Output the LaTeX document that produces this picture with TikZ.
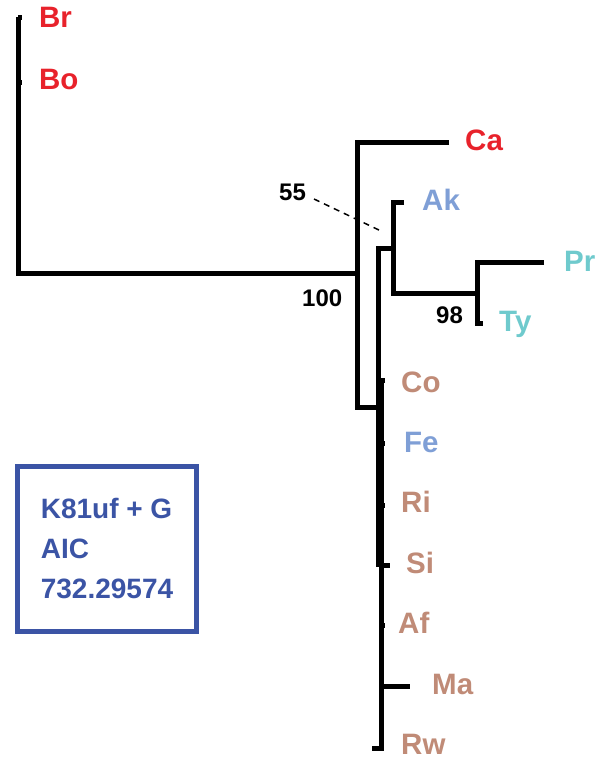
\documentclass[tikz,border=0pt]{standalone}
\usepackage{fontspec}
\setmainfont{Liberation Sans}
\definecolor{lred}{HTML}{E8222B}
\definecolor{lblue}{HTML}{7F9FD6}
\definecolor{lteal}{HTML}{6FCACD}
\definecolor{lbrown}{HTML}{C08B77}
\definecolor{boxblue}{HTML}{3B54A5}
\begin{document}
\begin{tikzpicture}[x=1pt,y=-1pt,
  br/.style={line width=5pt, line cap=butt, line join=miter},
  taxon/.style={anchor=base west, inner sep=0pt, font=\fontsize{29.5}{34}\selectfont\bfseries},
  support/.style={anchor=base west, inner sep=0pt, font=\fontsize{24}{28}\selectfont\bfseries},
  infobox/.style={draw=boxblue, line width=5pt, minimum width=179pt, minimum height=165pt,
    align=left, inner sep=0pt, text=boxblue,
    font=\fontsize{28}{40}\selectfont\bfseries}]
\useasboundingbox (0,0) rectangle (596,760);
% taxon labels
\node[taxon, text=lred] (Br) at (39,28) {Br};
\node[taxon, text=lred] (Bo) at (39,89) {Bo};
\node[taxon, text=lred] (Ca) at (465,150) {Ca};
\node[taxon, text=lblue] (Ak) at (422,210) {Ak};
\node[taxon, text=lteal] (Pr) at (564,271) {Pr};
\node[taxon, text=lteal] (Ty) at (499,331) {Ty};
\node[taxon, text=lbrown] (Co) at (401,392) {Co};
\node[taxon, text=lblue] (Fe) at (404,452) {Fe};
\node[taxon, text=lbrown] (Ri) at (401,512) {Ri};
\node[taxon, text=lbrown] (Si) at (406,573) {Si};
\node[taxon, text=lbrown] (Af) at (398,633) {Af};
\node[taxon, text=lbrown] (Ma) at (432,694) {Ma};
\node[taxon, text=lbrown] (Rw) at (401,754) {Rw};
% support values
\node[support] (s55) at (279,200) {55};
\node[support] (s100) at (302,306) {100};
\node[support] (s98) at (436,323) {98};
% branch points
\coordinate (root) at (18,273);
\coordinate (n1) at (357,273);
\coordinate (n2) at (378,248);
\coordinate (n3) at (393,248);
\coordinate (n4) at (477,293);
% tree
\draw[br] (18,17) -- (root) -- (n1);
\draw[br] (18,18) -- (22,18);
\draw[br] (18,82) -- (22,82);
\draw[br] (449,142) -- (357,142) -- (357,407) -- (378,407);
\draw[br] (n3) -- (n2) -- (378,567);
\draw[br] (404,202) -- (393,202) -- (393,293) -- (n4);
\draw[br] (544,262) -- (477,262) -- (477,323) -- (483,323);
\draw[br] (385,380) -- (381,380) -- (381,748) -- (372,748);
\draw[br] (381,443) -- (385,443);
\draw[br] (381,505) -- (385,505);
\draw[br] (381,565) -- (390,565);
\draw[br] (381,625) -- (385,625);
\draw[br] (381,686) -- (410,686);
% dashed pointer for 55
\draw[line width=1.5pt, dash pattern=on 6pt off 5pt] (314,199) -- (381,231);
% info box
\node[infobox] (info) at (107,548.5) {K81uf + G\\AIC\\732.29574};
\end{tikzpicture}
\end{document}
